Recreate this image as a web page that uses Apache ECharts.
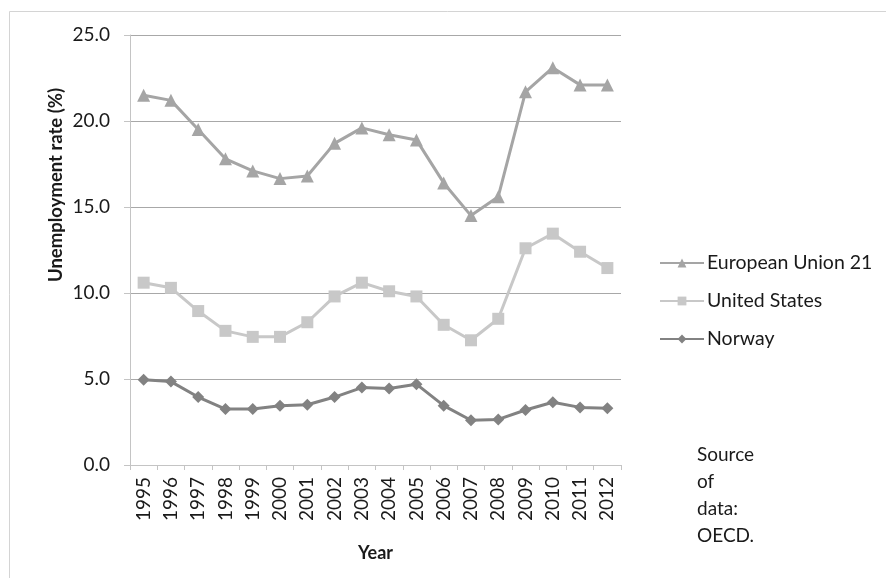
<!DOCTYPE html>
<html>
<head>
<meta charset="utf-8">
<script src="https://cdn.jsdelivr.net/npm/echarts@6/dist/echarts.min.js"></script>
<style>
  html, body { margin: 0; padding: 0; background: #fff; }
  #chart { width: 886px; height: 578px; }
</style>
</head>
<body>
<div id="chart"></div>
<script>
// Annual unemployment rates (%), 1995–2012
const years = ['1995','1996','1997','1998','1999','2000','2001','2002','2003','2004',
               '2005','2006','2007','2008','2009','2010','2011','2012'];
const eu21 = [21.5, 21.2, 19.5, 17.8, 17.1, 16.65, 16.8, 18.7, 19.6, 19.2,
              18.9, 16.4, 14.5, 15.6, 21.7, 23.1, 22.1, 22.1];
const unitedStates = [10.6, 10.3, 8.95, 7.8, 7.45, 7.45, 8.3, 9.8, 10.6, 10.1,
                      9.8, 8.15, 7.25, 8.5, 12.6, 13.45, 12.4, 11.45];
const norway = [4.95, 4.85, 3.95, 3.25, 3.25, 3.45, 3.5, 3.95, 4.5, 4.45,
                4.7, 3.45, 2.6, 2.65, 3.2, 3.65, 3.35, 3.3];
const yTicks = [0, 5, 10, 15, 20, 25];

const FONT = 'Lato, "Open Sans", sans-serif';
const TEXT = '#1a1a1a';
const chart = echarts.init(document.getElementById('chart'), null, { renderer: 'canvas' });

function lineSeries(name, data, color, symbol, size) {
  return {
    name, type: 'line', data,
    symbol, symbolSize: size,
    lineStyle: { color, width: 3 },
    itemStyle: { color },
    emphasis: { disabled: true },
    animation: false
  };
}

chart.setOption({
  backgroundColor: '#fff',
  animation: false,
  textStyle: { fontFamily: FONT },
  grid: { left: 130, right: 265, top: 35, bottom: 113, containLabel: false },
  legend: {
    orient: 'vertical',
    left: 654, top: 248,
    itemWidth: 44, itemHeight: 11, itemGap: 18,
    textStyle: { fontFamily: FONT, fontSize: 19.5, lineHeight: 20, color: TEXT, padding: [0, 0, 0, -2] },
    data: ['European Union 21', 'United States', 'Norway']
  },
  xAxis: {
    type: 'category',
    data: years,
    boundaryGap: true,
    name: 'Year', nameLocation: 'middle', nameGap: 79,
    nameTextStyle: { fontFamily: FONT, fontSize: 18, fontWeight: 'bold', color: TEXT },
    axisLine: { lineStyle: { color: '#c4c4c4', width: 1 } },
    axisTick: { show: true, alignWithLabel: false, length: 5, lineStyle: { color: '#c4c4c4' } },
    axisLabel: { rotate: 90, fontSize: 19, color: TEXT, margin: 12, interval: 0, fontFamily: FONT },
    splitLine: { show: false }
  },
  yAxis: {
    type: 'value',
    min: yTicks[0], max: yTicks[yTicks.length - 1], interval: 5,
    axisLine: { show: true, lineStyle: { color: '#c4c4c4', width: 1 } },
    axisTick: { show: true, length: 6, lineStyle: { color: '#c4c4c4' } },
    axisLabel: { fontSize: 19, color: TEXT, margin: 20, fontFamily: FONT,
                 formatter: v => v.toFixed(1) },
    splitLine: { show: true, lineStyle: { color: '#a8a8a8', width: 1 } }
  },
  series: [
    lineSeries('European Union 21', eu21, '#a5a5a5', 'triangle', 13),
    lineSeries('United States', unitedStates, '#c8c8c8', 'rect', 12),
    lineSeries('Norway', norway, '#828282', 'diamond', 12)
  ],
  graphic: [
    { type: 'line', shape: { x1: 9.5, y1: 11.5, x2: 886, y2: 11.5 },
      style: { stroke: '#d4d4d4', lineWidth: 1 }, silent: true },
    { type: 'line', shape: { x1: 9.5, y1: 11.5, x2: 9.5, y2: 578 },
      style: { stroke: '#d4d4d4', lineWidth: 1 }, silent: true },
    // vertical axis title
    { type: 'text', x: 56, y: 185, rotation: Math.PI / 2,
      style: { text: 'Unemployment rate (%)', fontFamily: FONT, fontSize: 18.5, fontWeight: 'bold',
               fill: TEXT, align: 'center', verticalAlign: 'middle' }, silent: true },
    { type: 'text', left: 697, top: 441,
      style: { text: 'Source\nof\ndata:\nOECD.', fontFamily: FONT, fontSize: 19,
               lineHeight: 27, fill: TEXT }, silent: true }
  ]
});
</script>
</body>
</html>
